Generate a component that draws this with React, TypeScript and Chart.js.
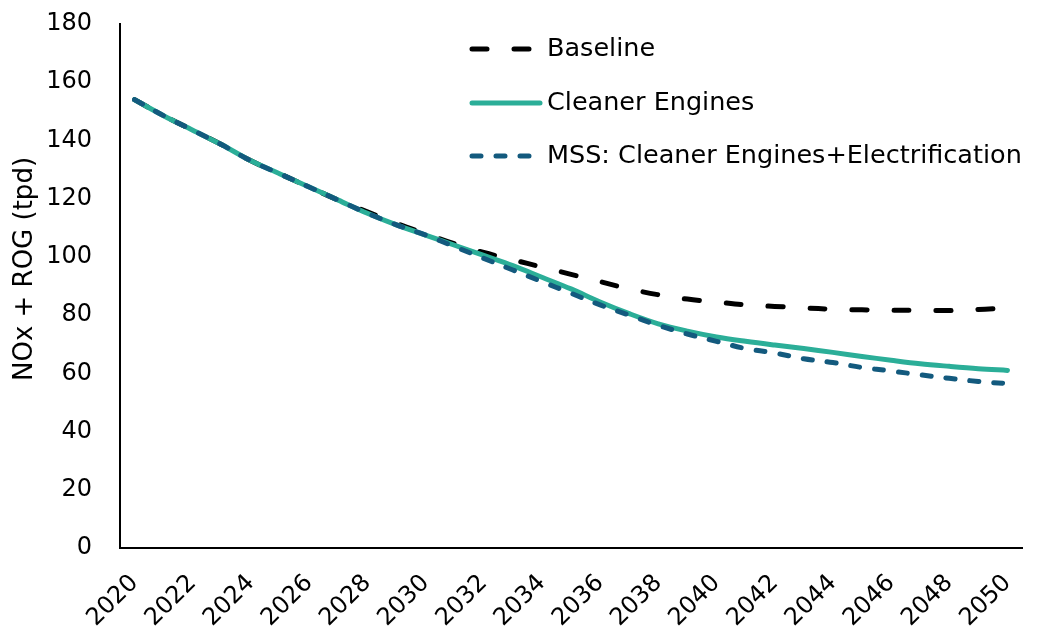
import React, { useEffect, useRef } from "react";
import { Chart, registerables } from "chart.js";

Chart.register(...registerables);

const years: string[] = [
  "2020", "2021", "2022", "2023", "2024", "2025", "2026", "2027", "2028", "2029",
  "2030", "2031", "2032", "2033", "2034", "2035", "2036", "2037", "2038", "2039",
  "2040", "2041", "2042", "2043", "2044", "2045", "2046", "2047", "2048", "2049", "2050",
];

const baseline: number[] = [
  154, 148.5, 143.5, 138.5, 133, 128.5, 124, 119.5, 115.5, 111.5,
  108, 104.5, 101.5, 99, 96.5, 94, 91.5, 89, 87, 85.5,
  84.5, 83.5, 83, 82.5, 82, 81.8, 81.7, 81.6, 81.6, 81.9, 82.5,
];

const cleanerEngines: number[] = [
  154, 148.5, 143.5, 138.5, 133, 128.5, 124, 119.5, 115, 111,
  107.5, 104, 100.5, 97, 93, 89, 84.5, 80.5, 77, 74.5,
  72.5, 71, 69.7, 68.5, 67.2, 65.8, 64.5, 63.3, 62.4, 61.6, 61,
];

const mss: number[] = [
  154, 148.5, 143.5, 138.5, 133, 128.5, 124, 119.5, 115, 111,
  107.5, 103.5, 99.5, 95.5, 91.5, 87.5, 83.5, 80, 76.5, 73.5,
  71, 68.5, 67, 65, 63.7, 62, 60.8, 59.5, 58.3, 57.2, 56.5,
];

const seriesNames: string[] = ["Baseline", "Cleaner Engines", "MSS: Cleaner Engines+Electrification"];
const yTitle = "NOx + ROG (tpd)";

const FONT = "'DejaVu Sans', sans-serif";
const BLACK = "#000000";
const TEAL = "#2BAE98";
const BLUE = "#135A7E";

const baseDash = [15, 27];
const mssDash = [9, 15];

const overlayPlugin = {
  id: "overlay",
  afterDraw(chart: any) {
    const ctx = chart.ctx as CanvasRenderingContext2D;
    ctx.save();
    // y-axis title
    ctx.fillStyle = "#000";
    ctx.font = `26px ${FONT}`;
    ctx.textAlign = "center";
    ctx.textBaseline = "middle";
    ctx.translate(25, 269);
    ctx.rotate(-Math.PI / 2);
    ctx.fillText(yTitle, 0, 0);
    ctx.restore();

    // legend
    const rows = [
      { y: 49, color: BLACK, dash: baseDash },
      { y: 103, color: TEAL, dash: [] as number[] },
      { y: 156, color: BLUE, dash: mssDash },
    ];
    rows.forEach((r, i) => {
      ctx.save();
      ctx.strokeStyle = r.color;
      ctx.lineWidth = 5;
      ctx.lineCap = "round";
      ctx.setLineDash(r.dash);
      ctx.beginPath();
      ctx.moveTo(472, r.y);
      ctx.lineTo(540, r.y);
      ctx.stroke();
      ctx.restore();
      ctx.save();
      ctx.fillStyle = "#000";
      ctx.font = `25.5px ${FONT}`;
      ctx.textAlign = "left";
      ctx.textBaseline = "middle";
      ctx.fillText(seriesNames[i], 547, r.y);
      ctx.restore();
    });
  },
};

export default function App() {
  const ref = useRef<HTMLCanvasElement | null>(null);

  useEffect(() => {
    if (!ref.current) return;
    const chart = new Chart(ref.current, {
      type: "line",
      data: {
        labels: years,
        datasets: [
          {
            label: seriesNames[0],
            data: baseline,
            borderColor: BLACK,
            borderWidth: 5,
            borderDash: baseDash,
            borderCapStyle: "round",
            pointRadius: 0,
            tension: 0.35,
            fill: false,
            order: 3,
          },
          {
            label: seriesNames[1],
            data: cleanerEngines,
            borderColor: TEAL,
            borderWidth: 5,
            borderCapStyle: "round",
            pointRadius: 0,
            tension: 0.35,
            fill: false,
            order: 2,
          },
          {
            label: seriesNames[2],
            data: mss,
            borderColor: BLUE,
            borderWidth: 5,
            borderDash: mssDash,
            borderCapStyle: "round",
            pointRadius: 0,
            tension: 0.35,
            fill: false,
            order: 1,
          },
        ],
      },
      options: {
        responsive: false,
        animation: false,
        layout: { padding: { top: 24, right: 16, left: 0, bottom: 0 } },
        plugins: {
          legend: { display: false },
          tooltip: { enabled: false },
        },
        scales: {
          x: {
            offset: true,
            grid: { display: false },
            border: { display: true, color: "#000", width: 2 },
            ticks: {
              autoSkip: false,
              maxRotation: 45,
              minRotation: 45,
              color: "#000",
              font: { size: 24, family: FONT },
              padding: 13,
              callback: (_v: any, i: number) => (i % 2 === 0 ? years[i] : ""),
            },
            afterFit: (s: any) => {
              s.height = 85;
              s.paddingLeft = 0;
              s.paddingRight = 0;
            },
          },
          y: {
            min: 0,
            max: 180,
            grid: { display: false },
            border: { display: true, color: "#000", width: 2 },
            ticks: {
              stepSize: 20,
              color: "#000",
              font: { size: 24, family: FONT },
              padding: 20,
            },
            afterFit: (s: any) => {
              s.width = 120;
              s.paddingTop = 0;
              s.paddingBottom = 0;
            },
          },
        },
      },
      plugins: [overlayPlugin],
    });
    return () => chart.destroy();
  }, []);

  return (
    <div style={{ position: "absolute", left: 0, top: 0, width: 1038, height: 633, background: "#fff" }}>
      <canvas ref={ref} width={1038} height={633} />
    </div>
  );
}
